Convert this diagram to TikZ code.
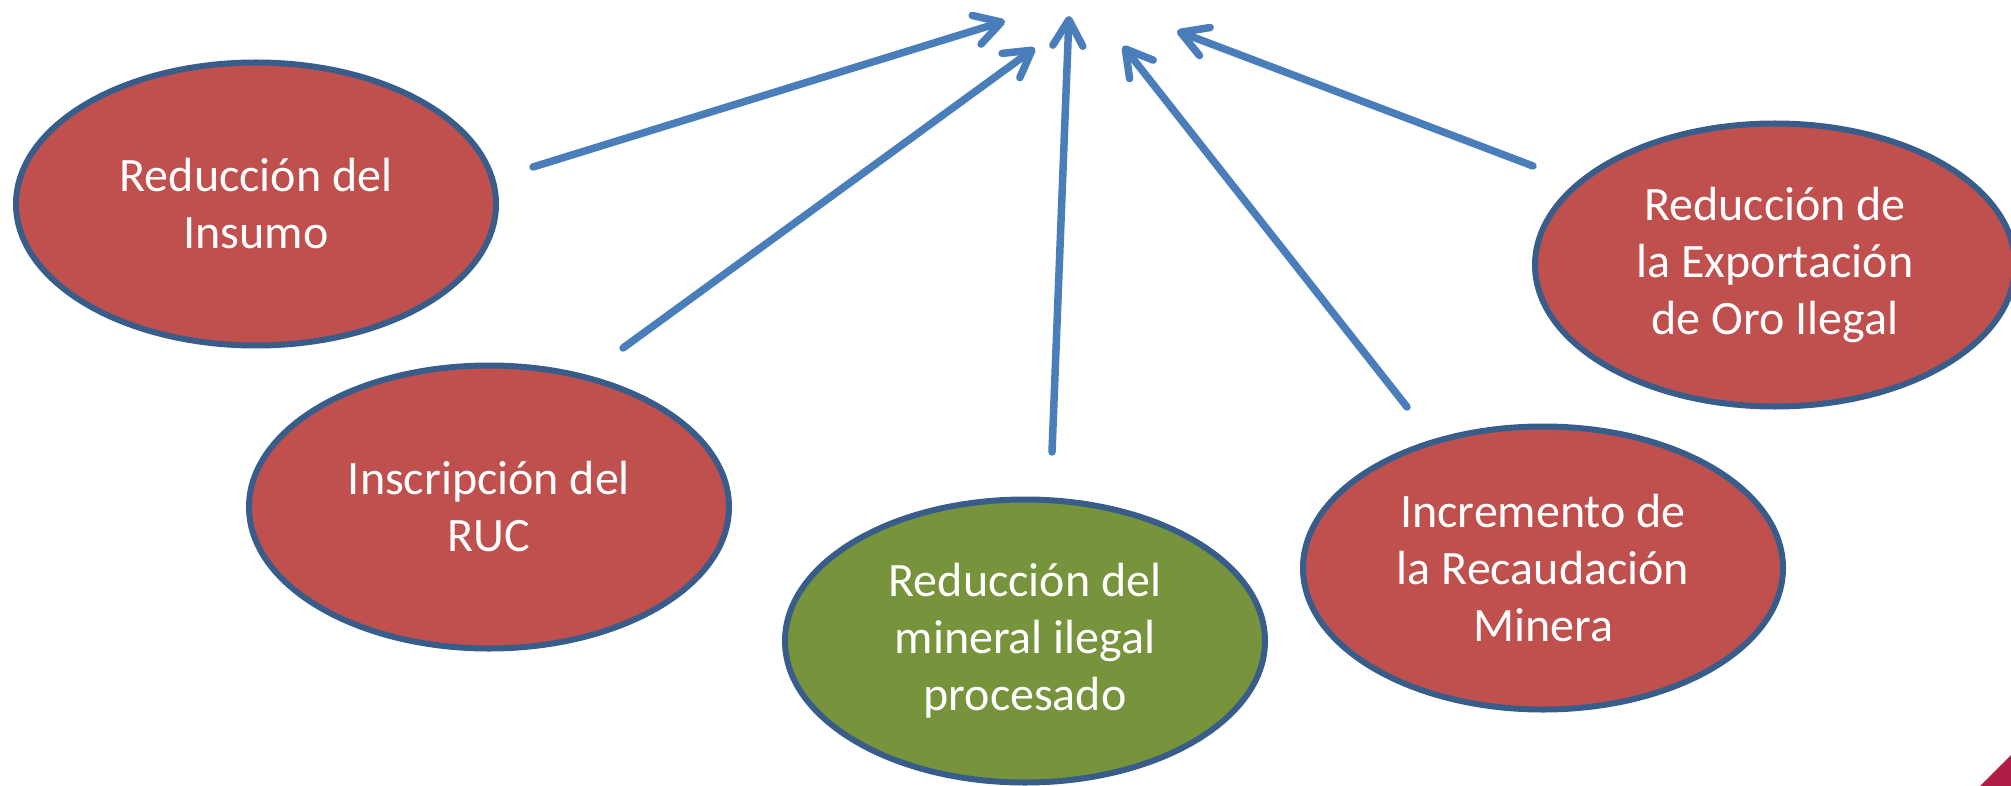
\documentclass[tikz,border=0pt]{standalone}
\usepackage{fontspec}
\setmainfont{Carlito}
\usetikzlibrary{shapes.geometric,arrows.meta}
\definecolor{causa}{RGB}{192,80,77}
\definecolor{efecto}{RGB}{119,147,60}
\definecolor{borde}{RGB}{56,93,138}
\definecolor{flecha}{RGB}{74,126,187}
\definecolor{esquina}{RGB}{176,30,72}
\tikzset{
  elipse/.style={ellipse, draw=borde, line width=3pt, fill=causa, text=white,
    minimum width=240pt, minimum height=141.5pt, inner sep=0pt, align=center,
    font=\fontsize{24}{28.5}\selectfont},
  flechita/.style={draw=flecha, line width=3.75pt, line cap=round, line join=round,
    -{Straight Barb[length=13pt,width=15pt,round]}}
}
\begin{document}
\begin{tikzpicture}[x=0.5pt,y=0.5pt,yscale=-1,xscale=1]
\useasboundingbox (0,0) rectangle (2011,786);

%Shape: Ellipse
\node [elipse] (insumo) at (256,204) {Reducción del\\Insumo};
%Shape: Ellipse
\node [elipse] (ruc) at (489,507) {Inscripción del\\RUC};
%Shape: Ellipse
\node [elipse, fill=efecto] (mineral) at (1025,641) {Reducción del\\mineral ilegal\\procesado};
%Shape: Ellipse
\node [elipse] (recaudacion) at (1543,568) {Incremento de\\la Recaudación\\Minera};
%Shape: Ellipse
\node [elipse] (exportacion) at (1775,265) {Reducción de\\la Exportación\\de Oro Ilegal};

% Arrow ends
\coordinate (s1) at (533,167);
\coordinate (t1) at (1005,21);
\coordinate (s2) at (623,348);
\coordinate (t2) at (1035,48);
\coordinate (s3) at (1052,452);
\coordinate (t3) at (1069,16);
\coordinate (s4) at (1407,407);
\coordinate (t4) at (1123,46);
\coordinate (s5) at (1533,166);
\coordinate (t5) at (1177,31);

%Straight Lines
\draw [flechita] (s1) -- (t1);
\draw [flechita] (s2) -- (t2);
\draw [flechita] (s3) -- (t3);
\draw [flechita] (s4) -- (t4);
\draw [flechita] (s5) -- (t5);

%Shape: Triangle
\fill [esquina] (1980,786) -- (2011,755) -- (2011,786) -- cycle;

\end{tikzpicture}
\end{document}
